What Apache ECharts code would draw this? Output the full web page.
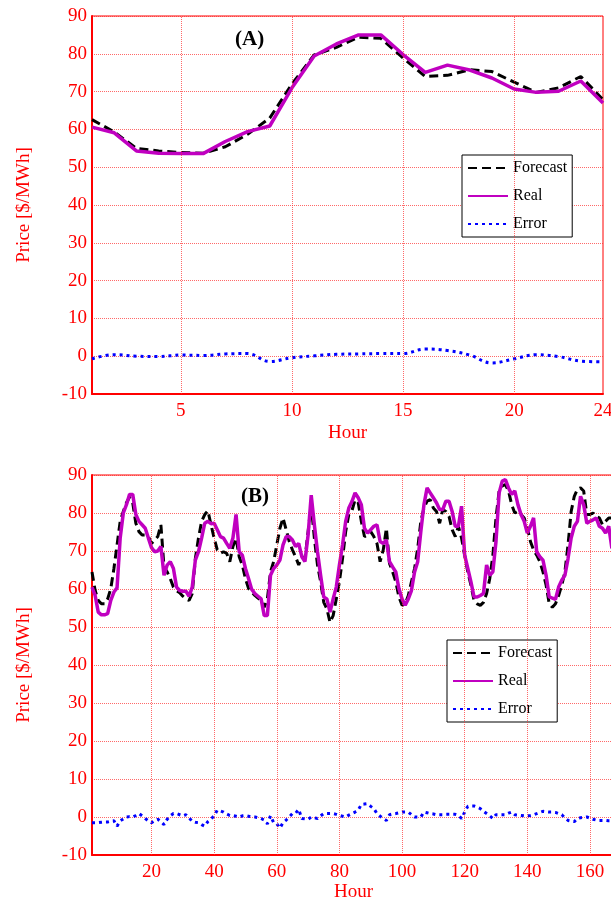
<!DOCTYPE html>
<html>
<head>
<meta charset="utf-8">
<script src="https://cdn.jsdelivr.net/npm/echarts@6/dist/echarts.min.js"></script>
<style>
html,body{margin:0;padding:0;background:#fff;}
#c{width:611px;height:902px;}
</style>
</head>
<body>
<div id="c"></div>
<script>
// ---------- DATA ----------
const hoursA = [1,2,3,4,5,6,7,8,9,10,11,12,13,14,15,16,17,18,19,20,21,22,23,24];
const forecastA = [62.6,59.3,55.0,54.3,53.9,53.7,55.4,58.7,63.0,72.0,79.7,81.7,84.4,84.1,78.9,74.0,74.3,75.8,75.3,72.5,69.8,71.0,74.0,67.9];
const realA = [60.6,59.1,54.3,53.7,53.6,53.6,56.8,59.4,60.9,71.0,79.4,82.6,85.0,85.0,79.8,75.1,77.0,75.7,73.6,70.7,69.8,70.1,72.8,67.0];
const errorA = [-0.7,0.4,0.0,-0.1,0.3,0.2,0.6,0.7,-1.4,-0.4,0.1,0.5,0.6,0.7,0.7,1.9,1.5,0.3,-1.8,-0.7,0.4,-0.1,-1.3,-1.5];
const xTicksA = [5,10,15,20,24];
const xGridA = [5,10,15,20];

const hoursB = [];
for (let h = 1; h <= 168; h++) hoursB.push(h);
const forecastB = [
64.5,59.6,57.0,56.1,56.1,57.4,60.1,65.4,71.6,77.8,80.4,82.7,84.2,82.7,77.3,75.1,74.2,74.2,73.8,72.0,
72.9,73.8,76.9,65.8,64.5,62.7,60.5,59.6,59.0,58.1,57.4,57.0,58.8,68.0,73.4,77.8,79.6,80.6,76.9,73.4,
70.3,69.4,69.8,69.4,67.2,71.2,73.4,68.5,66.3,62.7,60.1,59.2,58.3,57.6,57.0,55.2,57.4,64.5,67.2,71.6,
76.0,78.7,75.6,72.5,70.3,68.5,66.3,68.5,68.0,75.1,82.2,73.4,66.3,61.9,56.5,54.8,51.2,53.0,57.4,61.9,
68.0,75.1,79.6,80.6,83.5,82.7,77.8,73.8,74.2,75.1,73.8,72.0,67.2,70.3,76.0,66.7,64.5,61.9,57.9,55.7,
56.1,58.3,61.9,65.4,70.7,77.8,81.3,83.1,83.5,81.3,80.4,77.3,80.9,80.4,79.1,75.6,73.8,76.5,73.4,68.9,
64.5,61.0,57.0,56.1,55.7,56.5,58.8,62.7,68.9,78.7,85.8,87.1,87.5,85.8,82.2,80.0,80.4,79.6,78.7,76.0,
72.5,70.3,68.9,67.2,64.5,61.0,56.1,55.2,56.1,58.3,61.0,64.5,71.6,80.4,84.4,86.2,86.6,85.8,79.6,79.6,
80.0,79.1,78.7,76.9,77.8,78.7,78.7,79.1];
const realB = [
60.5,58.3,53.9,53.2,53.2,53.5,57.0,59.2,60.3,73.4,80.0,82.2,84.9,84.9,79.6,77.8,76.9,76.0,73.4,70.9,
69.8,70.0,71.2,63.6,66.3,67.2,65.4,60.5,59.6,59.4,59.4,58.1,60.5,67.6,69.8,73.4,77.3,77.8,77.2,77.3,
75.6,73.8,73.4,72.0,70.7,73.4,79.6,69.8,68.9,65.4,62.7,59.9,58.8,58.1,57.4,53.0,53.0,63.6,65.4,66.3,
67.6,71.6,73.8,73.8,72.9,71.2,72.0,68.5,67.2,74.2,84.7,76.9,69.8,63.6,57.9,57.4,53.9,57.4,60.5,66.3,
71.6,77.8,81.3,83.0,85.3,84.0,82.2,76.0,74.7,75.6,76.5,76.9,72.5,72.0,72.9,67.2,65.8,64.5,60.1,57.4,
55.7,57.4,59.6,64.5,67.2,75.1,82.2,86.6,85.3,84.0,82.7,80.9,80.9,83.1,83.1,80.4,76.5,76.5,81.8,68.9,
65.4,61.9,57.9,57.9,58.3,58.8,66.3,63.6,64.5,72.5,85.3,88.4,88.8,86.6,84.9,85.8,82.2,79.6,77.8,74.7,
76.5,78.7,69.8,68.5,67.6,63.6,57.9,57.6,57.3,60.5,62.3,63.6,68.0,73.4,76.5,77.8,84.4,82.2,77.3,77.8,
78.2,78.7,76.5,76.0,74.7,76.5,70.7,73.4];
const errorB = [
-1.5,-1.5,-1.5,-1.4,-1.3,-1.3,-1.1,-1.0,-2.4,-1.0,-0.5,0.0,0.1,0.0,0.4,0.9,0.3,-0.4,-1.0,-1.5,
-1.0,-0.6,-1.2,-2.0,-0.6,0.3,0.9,0.9,0.6,0.3,0.6,-0.2,-1.2,-1.4,-1.5,-2.0,-2.4,-1.2,-0.5,0.3,
1.8,1.6,1.3,0.8,0.4,0.4,0.2,0.0,0.3,0.4,0.2,0.0,0.0,-0.2,-0.4,-0.8,-1.8,0.3,-1.5,-1.8,
-2.9,-1.5,-0.8,0.0,0.9,1.0,2.0,-0.4,-0.5,-0.6,0.0,-0.2,-0.4,0.3,0.9,0.9,0.9,0.9,0.7,0.4,
0.2,0.0,0.5,0.9,1.3,1.8,3.3,3.4,3.5,2.8,2.2,0.9,0.2,-0.4,-0.9,0.6,0.8,0.9,1.1,1.3,
1.3,1.3,0.6,0.0,0.0,0.0,1.3,1.1,0.9,0.8,0.6,0.6,0.6,0.7,0.7,0.7,0.7,0.5,-0.4,1.3,
2.8,2.9,2.9,2.6,2.2,1.5,0.9,0.3,-0.4,0.6,0.6,0.6,0.6,1.0,1.3,0.6,0.5,0.4,0.3,0.3,
0.4,0.6,0.9,1.2,1.5,1.4,1.3,1.3,1.2,0.9,0.6,-0.2,-0.9,-1.1,-1.2,-0.4,-0.2,-0.1,0.0,-0.3,
-0.6,-0.8,-0.9,-0.9,-0.9,-1.0,-1.0,-1.0];
const xTicksB = [20,40,60,80,100,120,140,160];
const xGridB = [20,40,60,80,100,120,140,160];
const yTicks = [-10,0,10,20,30,40,50,60,70,80,90];

// ---------- CHART ----------
const FONT = 'Liberation Serif';
const RED = '#ff0000';
const GRIDC = 'rgba(255,40,40,0.7)';
const pairs = (xs, ys) => xs.map((x, i) => [x, ys[i]]);

function xAxisDef(idx, min, max, ticks, gap) {
  return {
    type: 'value', gridIndex: idx, min: min, max: max, interval: 1,
    name: 'Hour', nameLocation: 'middle', nameGap: gap,
    nameTextStyle: {color: RED, fontFamily: FONT, fontSize: 19},
    axisLine: {show: true, onZero: false, lineStyle: {color: RED, width: 2}},
    axisTick: {show: false},
    splitLine: {show: false},
    axisLabel: {
      color: RED, fontFamily: FONT, fontSize: 19, margin: 8, interval: 0,
      showMinLabel: true, showMaxLabel: true, hideOverlap: false,
      formatter: v => ticks.indexOf(v) >= 0 ? String(v) : ''
    }
  };
}
function yAxisDef(idx) {
  return {
    type: 'value', gridIndex: idx, min: -10, max: 90, interval: 10,
    name: 'Price [$/MWh]', nameLocation: 'middle', nameGap: 58, nameRotate: 90,
    nameTextStyle: {color: RED, fontFamily: FONT, fontSize: 19},
    axisLine: {show: true, onZero: false, lineStyle: {color: RED, width: 2}},
    axisTick: {show: false},
    splitLine: {show: true, lineStyle: {color: GRIDC, type: 'dotted', width: 1}},
    axisLabel: {color: RED, fontFamily: FONT, fontSize: 19, margin: 5,
      formatter: v => yTicks.indexOf(v) >= 0 ? String(v) : ''}
  };
}
function vGrid(vals) {
  return {
    silent: true, symbol: 'none', label: {show: false},
    lineStyle: {color: GRIDC, type: 'dotted', width: 1},
    emphasis: {disabled: true},
    data: vals.map(v => ({xAxis: v}))
  };
}
function seriesSet(idx, hours, f, r, e, gridVals) {
  return [
    {name: 'Forecast', type: 'line', xAxisIndex: idx, yAxisIndex: idx, data: pairs(hours, f),
     symbol: 'none', lineStyle: {color: '#000', width: 3, type: [9, 5]}, itemStyle: {color: '#000'},
     markLine: vGrid(gridVals), z: 3},
    {name: 'Real', type: 'line', xAxisIndex: idx, yAxisIndex: idx, data: pairs(hours, r),
     symbol: 'none', lineStyle: {color: '#c000c0', width: 3.5}, itemStyle: {color: '#c000c0'}, z: 4},
    {name: 'Error', type: 'line', xAxisIndex: idx, yAxisIndex: idx, data: pairs(hours, e),
     symbol: 'none', smooth: idx === 0 ? 0.4 : false,
     lineStyle: {color: '#0000ff', width: 3, type: [3, 4]}, itemStyle: {color: '#0000ff'}, z: 3}
  ];
}
function legendDef(left, top) {
  return {
    left: left, top: top, orient: 'vertical', itemWidth: 40, itemHeight: 14, itemGap: 12,
    padding: [5, 5, 5, 5], borderColor: '#000', borderWidth: 1, backgroundColor: '#fff',
    itemStyle: {opacity: 0},
    textStyle: {fontFamily: FONT, fontSize: 16, color: '#000'},
    data: ['Forecast', 'Real', 'Error'], selectedMode: false
  };
}

const chart = echarts.init(document.getElementById('c'), null, {renderer: 'canvas'});
chart.setOption({
  animation: false,
  backgroundColor: '#fff',
  title: [
    {text: '(A)', left: 230, top: 24, textStyle: {fontFamily: FONT, fontWeight: 'bold', fontSize: 21, color: '#000'}},
    {text: '(B)', left: 236, top: 481, textStyle: {fontFamily: FONT, fontWeight: 'bold', fontSize: 21, color: '#000'}}
  ],
  grid: [
    {left: 92, top: 16, right: 8, height: 378, show: true, borderColor: RED, borderWidth: 1,
     backgroundColor: 'transparent', outerBoundsMode: 'none', containLabel: false},
    {left: 92, top: 475, right: -4, height: 380, show: true, borderColor: RED, borderWidth: 1,
     backgroundColor: 'transparent', outerBoundsMode: 'none', containLabel: false}
  ],
  xAxis: [xAxisDef(0, 1, 24, xTicksA, 30), xAxisDef(1, 1, 168, xTicksB, 26)],
  yAxis: [yAxisDef(0), yAxisDef(1)],
  legend: [legendDef(462, 155), legendDef(447, 640)],
  series: [].concat(
    seriesSet(0, hoursA, forecastA, realA, errorA, xGridA),
    seriesSet(1, hoursB, forecastB, realB, errorB, xGridB)
  )
});
</script>
</body>
</html>
